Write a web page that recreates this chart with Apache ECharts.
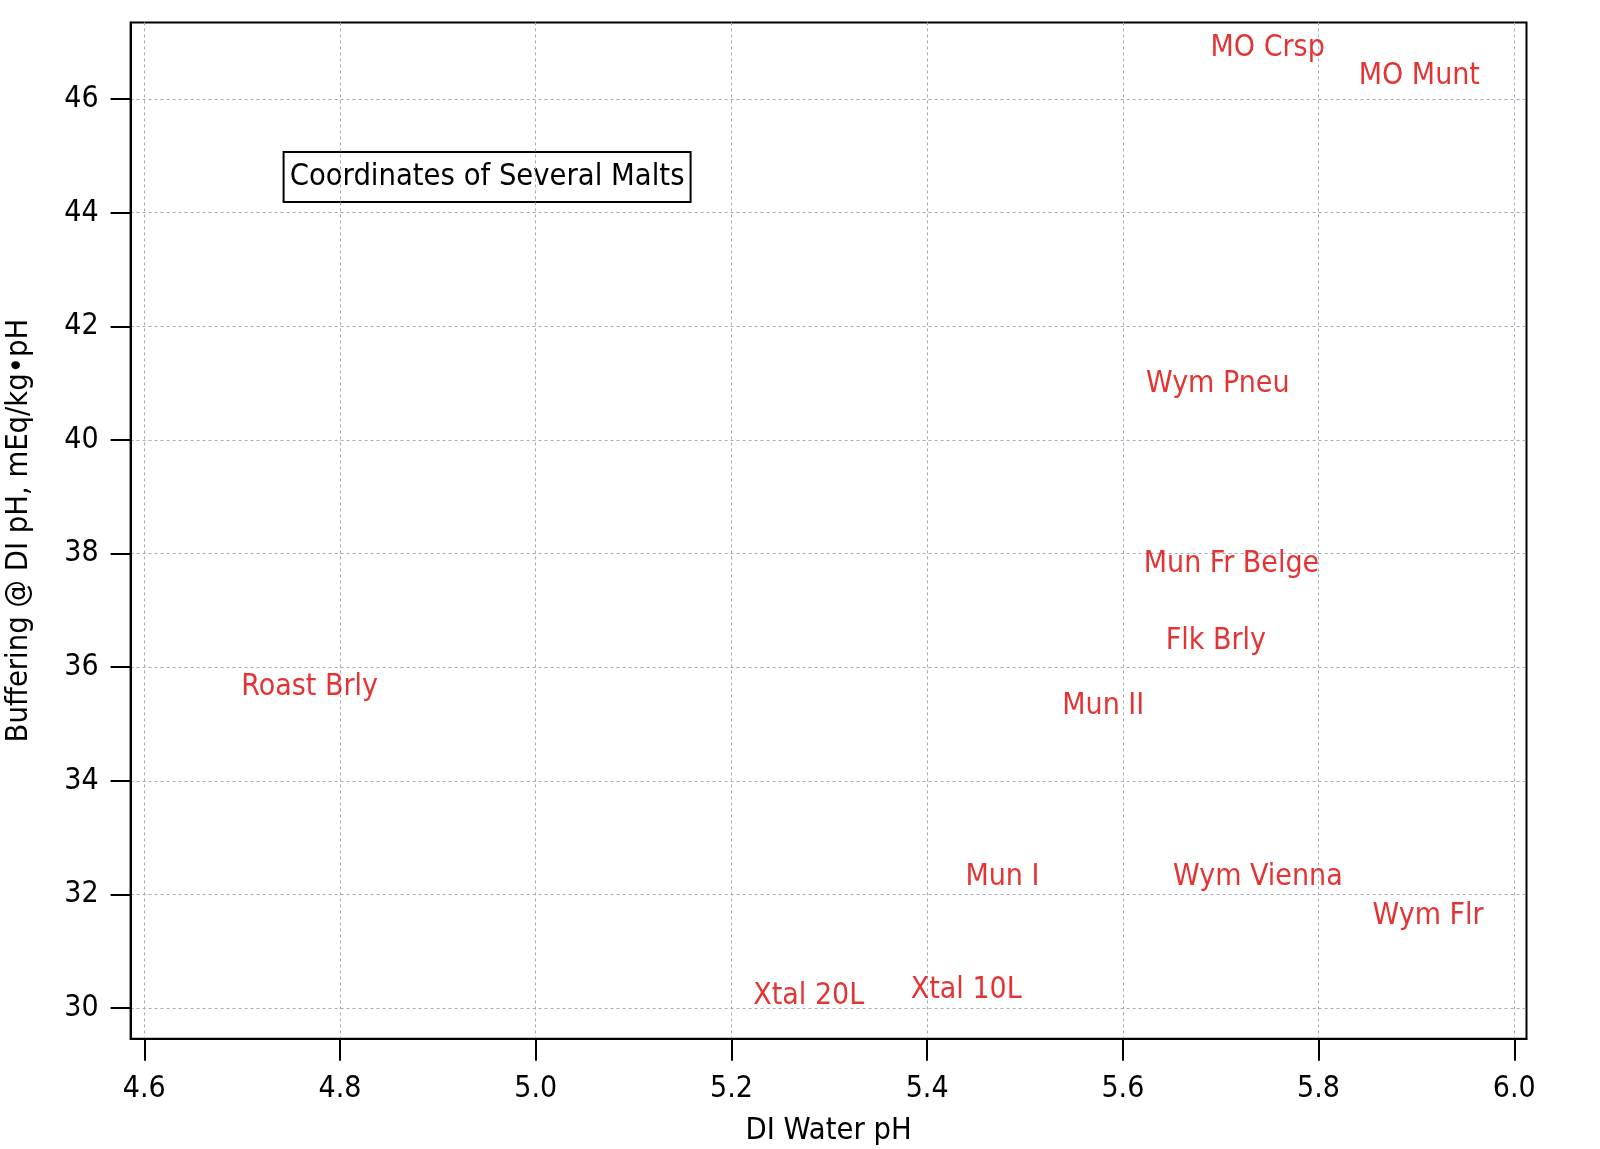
<!DOCTYPE html>
<html><head><meta charset="utf-8">
<script src="https://cdn.jsdelivr.net/npm/echarts@6/dist/echarts.min.js"></script>
<style>html,body{margin:0;padding:0;background:#fff}#c{width:1600px;height:1149px}</style>
</head><body><div id="c"></div>
<script>
const malts = ['MO Crsp','MO Munt','Wym Pneu','Mun Fr Belge','Flk Brly','Mun II','Roast Brly','Mun I','Wym Vienna','Wym Flr','Xtal 20L','Xtal 10L'];
const diPH = [5.748,5.903,5.697,5.711,5.695,5.580,4.769,5.477,5.738,5.912,5.279,5.440];
const buffering = [46.89,46.40,40.98,37.81,36.46,35.31,35.65,32.31,32.31,31.61,30.21,30.32];
const xTicks = [4.6,4.8,5.0,5.2,5.4,5.6,5.8,6.0];
const yTicks = [30,32,34,36,38,40,42,44,46];
const chartTitle = 'Coordinates of Several Malts';

const FONT = '"DejaVu Sans Condensed", "DejaVu Sans", sans-serif';
const FS = 30;
const FS2 = 30.6;
const chart = echarts.init(document.getElementById('c'), null, {renderer:'canvas'});
const gridLine = {show:true, lineStyle:{color:'#a8a8c0', width:1, type:[3,3]}};
chart.setOption({
  backgroundColor:'#fff',
  animation:false,
  grid:{left:130.6, right:73.5, top:22.4, bottom:110.2, outerBoundsMode:'none', containLabel:false,
    show:true, borderColor:'#000', borderWidth:2, backgroundColor:'transparent'},
  xAxis:{type:'value', min:4.586, max:6.0125,
    name:'DI Water pH', nameLocation:'middle', nameGap:77,
    nameTextStyle:{fontFamily:FONT, fontSize:FS2, color:'#000'},
    axisLine:{show:true, lineStyle:{color:'#000', width:2}},
    axisTick:{show:true, customValues:xTicks, length:22, lineStyle:{color:'#000', width:2}},
    axisLabel:{customValues:xTicks, margin:35, fontFamily:FONT, fontSize:FS, color:'#000', formatter:v=>v.toFixed(1)},
    splitLine:gridLine},
  yAxis:{type:'value', min:29.46, max:47.35,
    name:'Buffering @ DI pH, mEq/kg•pH', nameLocation:'middle', nameGap:96, nameRotate:90,
    nameTextStyle:{fontFamily:FONT, fontSize:FS2, color:'#000'},
    axisLine:{show:true, lineStyle:{color:'#000', width:2}},
    axisTick:{show:true, customValues:yTicks, length:20, lineStyle:{color:'#000', width:2}},
    axisLabel:{customValues:yTicks, margin:32, fontFamily:FONT, fontSize:FS, color:'#000'},
    splitLine:gridLine},
  graphic:[{type:'group', left:282.6, top:151, children:[
    {type:'rect', shape:{x:0,y:0,width:407,height:50}, style:{fill:'#fff', stroke:'#000', lineWidth:2}},
    {type:'text', x:203.5, y:25, style:{text:chartTitle, fontFamily:FONT, fontSize:FS2, fill:'#000', align:'center', verticalAlign:'middle'}}
  ]}],
  series:[{type:'scatter', symbolSize:1, itemStyle:{color:'rgba(0,0,0,0)'},
    data:malts.map((m,i)=>[diPH[i], buffering[i], m]),
    label:{show:true, position:'inside', formatter:p=>p.data[2], fontFamily:FONT, fontSize:FS, color:'#dd0000', align:'center', verticalAlign:'middle'}
  }]
});
</script></body></html>
